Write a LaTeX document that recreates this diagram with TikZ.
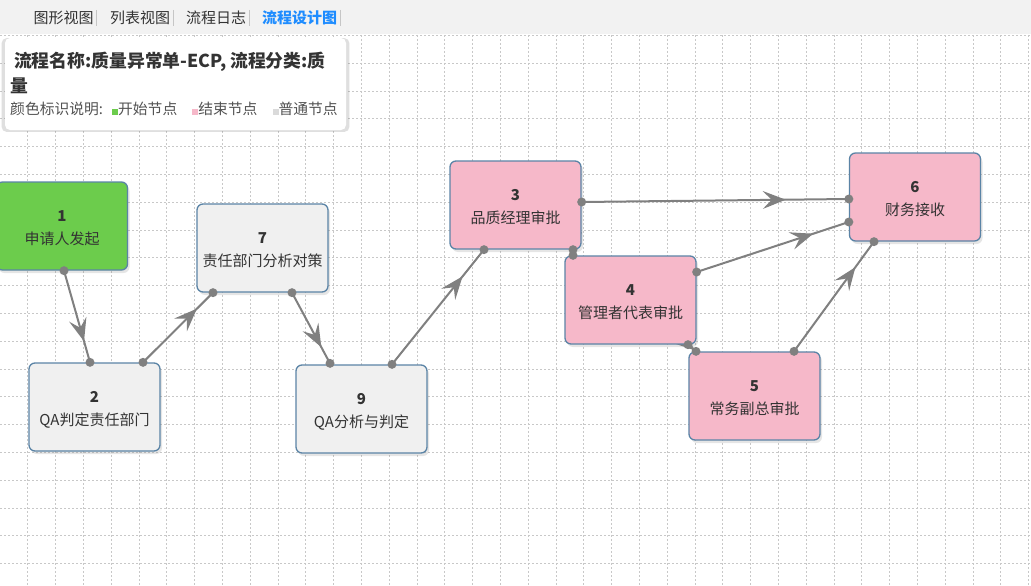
\documentclass[tikz,border=0pt]{standalone}
\usepackage{fontspec}
\setmainfont{Noto Sans CJK SC}
\usepackage{xcolor}
\usepackage{tikz}
\usetikzlibrary{decorations.markings,shadows,calc}

\definecolor{startgreen}{HTML}{6CCC4C}
\definecolor{endpink}{HTML}{F6B8C9}
\definecolor{normalgray}{HTML}{F0F0F0}
\definecolor{nodeborder}{HTML}{5B84A6}
\definecolor{linkgray}{HTML}{808080}
\definecolor{textdark}{HTML}{333333}
\definecolor{gridgray}{HTML}{C8C8C8}
\definecolor{tabbar}{HTML}{F2F2F2}
\definecolor{tabblue}{HTML}{1E8CFF}

\pgfdeclarelayer{background}
\pgfdeclarelayer{links}
\pgfsetlayers{background,links,main}

\tikzset{
    flownode/.style={draw=nodeborder, line width=1.3pt, rounded corners=6pt,
        minimum width=131pt, minimum height=88pt, align=center, text=textdark,
        font=\fontsize{15}{23}\selectfont,
        drop shadow={shadow xshift=2pt, shadow yshift=-3pt, opacity=0.2}},
    startnode/.style={flownode, fill=startgreen},
    endnode/.style={flownode, fill=endpink},
    normalnode/.style={flownode, fill=normalgray},
    link/.style={linkgray, line width=2pt, postaction={decorate},
        decoration={markings, mark=at position 0.76 with
            {\fill[linkgray] (1pt,0) -- (-22pt,9pt) -- (-13pt,0) -- (-22pt,-9pt) -- cycle;}}},
    linkdot/.style={fill=linkgray},
    gridline/.style={gridgray, line width=0.8pt, dash pattern=on 2pt off 2pt},
    tabitem/.style={inner sep=0pt, text=textdark, font=\fontsize{15}{18}\selectfont},
    tabsep/.style={draw=gray!45, line width=0.8pt},
    legendbox/.style={fill=white, rounded corners=5pt, minimum width=341pt, minimum height=92pt,
        drop shadow={shadow xshift=0pt, shadow yshift=-1pt, shadow scale=1.02, opacity=0.25}},
}

\begin{document}
\begin{tikzpicture}[x=1pt,y=-1pt]
    \useasboundingbox (0,0) rectangle (1031,586);
    \begin{pgfonlayer}{background}
        \fill[white] (0,0) rectangle (1031,586);
        \foreach \k in {1,...,37}
            \draw[gridline] ({27.8*\k},35) -- ({27.8*\k},586);
        \foreach \k in {0,...,19}
            \draw[gridline] (0,{35.3+27.8*\k}) -- (1031,{35.3+27.8*\k});
        \fill[tabbar] (0,0) rectangle (1031,34);
    \end{pgfonlayer}

    \node[tabitem] at (63.5,18) (tab1) {图形视图};
    \node[tabitem] at (140,18) (tab2) {列表视图};
    \node[tabitem] at (216,18) (tab3) {流程日志};
    \node[tabitem, text=tabblue, font=\bfseries\fontsize{15}{18}\selectfont] at (299.5,18) (tab4) {流程设计图};
    \foreach \t in {tab1,tab2,tab3,tab4}
        \draw[tabsep] ($(\t.east)+(3,-8)$) -- ++(0,16);

    \node[legendbox] at (175.5,84) (legend) {};
    \node[anchor=west, inner sep=0pt, text=textdark, font=\bfseries\fontsize{17.8}{20}\selectfont] at (14,62) (title1) {流程名称:质量异常单-ECP, 流程分类:质};
    \node[anchor=west, inner sep=0pt, text=textdark, font=\bfseries\fontsize{17.8}{20}\selectfont] at (10,86) (title2) {量};
    \node[anchor=west, inner sep=0pt, text=textdark!85, font=\fontsize{14.8}{18}\selectfont] at (10,109) (colorkey)
        {颜色标识说明:\hspace{9pt}{\color{startgreen}\rule{6pt}{6pt}}开始节点\hspace{15pt}{\color{endpink}\rule{6pt}{6pt}}结束节点\hspace{15pt}{\color{normalgray!80!gray}\rule{6pt}{6pt}}普通节点};

    \node[startnode] at (62,226) (n1) {\rule{0pt}{16pt}\textbf{1}\\申请人发起};
    \node[normalnode] at (94.5,407) (n2) {\rule{0pt}{16pt}\textbf{2}\\QA判定责任部门};
    \node[normalnode] at (262.5,248) (n7) {\rule{0pt}{16pt}\textbf{7}\\责任部门分析对策};
    \node[normalnode] at (361.5,409) (n9) {\rule{0pt}{16pt}\textbf{9}\\QA分析与判定};
    \node[endnode] at (515.5,205) (n3) {\rule{0pt}{16pt}\textbf{3}\\品质经理审批};
    \node[endnode] at (630.5,300) (n4) {\rule{0pt}{16pt}\textbf{4}\\管理者代表审批};
    \node[endnode] at (754.5,396) (n5) {\rule{0pt}{16pt}\textbf{5}\\常务副总审批};
    \node[endnode] at (915,197) (n6) {\rule{0pt}{16pt}\textbf{6}\\财务接收};

    \foreach \a/\ax/\ay/\b/\bx/\by in {n1.south/2/0/n2.north/-4.5/0,
                                       n2.north/48.5/0/n7.south/-49.5/0,
                                       n7.south/29.5/0/n9.north/-31.5/-1,
                                       n9.north/30.5/0/n3.south/-31.5/0,
                                       n3.south/57.5/0/n4.north/-57.5/0,
                                       n4.south/57.5/0/n5.north/-58.5/0,
                                       n3.east/0/-3/n6.west/0/2,
                                       n4.east/0/-28/n6.west/0/25,
                                       n5.north/39.5/0/n6.south/-41/0}
    {
        \coordinate (from) at ($(\a)+(\ax,\ay)$);
        \coordinate (to) at ($(\b)+(\bx,\by)$);
        \begin{pgfonlayer}{links}
            \draw[link] (from) -- (to);
        \end{pgfonlayer}
        \fill[linkdot] (from) circle (4.5pt);
        \fill[linkdot] (to) circle (4.5pt);
    }
\end{tikzpicture}
\end{document}
